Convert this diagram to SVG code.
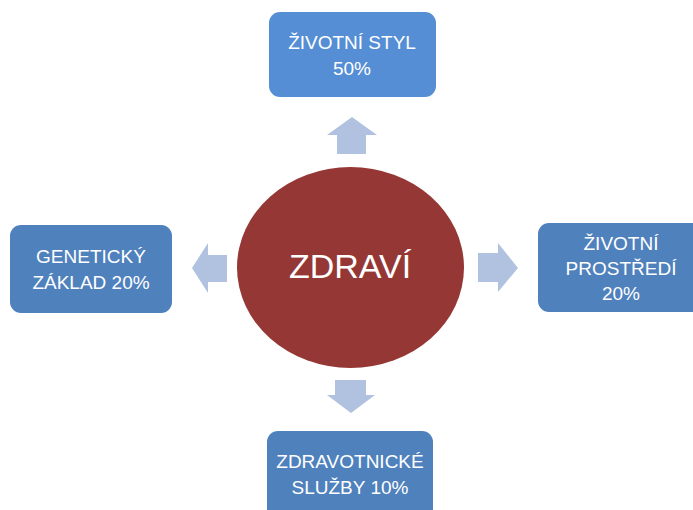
<svg xmlns="http://www.w3.org/2000/svg" width="693" height="510" viewBox="0 0 693 510">
<style>
.box{fill:#4F81BD}
.boxl{fill:#558ED5}
.t{font-family:"Liberation Sans",Arial,sans-serif;font-size:19px;fill:#FFFFFF;text-anchor:middle}
.big{font-size:34px}
.arr{fill:#B0C2E0}
</style>
<rect width="693" height="510" fill="#FFFFFF"/>
<g id="connectors">
<polygon class="arr" points="352,117 377,135 366,135 366,154 337,154 337,135 327,135"/>
<polygon class="arr" points="351,413 375,395 366,395 366,380 335,380 335,395 327,395"/>
<polygon class="arr" points="192,268 208,243 208,255 227,255 227,282 208,282 208,293"/>
<polygon class="arr" points="518,268 498,243 498,253 478,253 478,282 498,282 498,292"/>
</g>
<g id="zdravi">
<ellipse cx="350.5" cy="267.5" rx="113.5" ry="100.5" fill="#953735"/>
<text class="t big" x="350" y="278">ZDRAVÍ</text>
</g>
<g id="zivotni-styl">
<rect class="boxl" x="269" y="12" width="167" height="85" rx="11"/>
<text class="t" x="352" y="49">ŽIVOTNÍ STYL</text>
<text class="t" x="352" y="75">50%</text>
</g>
<g id="geneticky-zaklad">
<rect class="box" x="10" y="225" width="162" height="88" rx="11"/>
<text class="t" x="91" y="263">GENETICKÝ</text>
<text class="t" x="91" y="289">ZÁKLAD 20%</text>
</g>
<g id="zivotni-prostredi">
<rect class="box" x="538" y="223" width="165" height="89" rx="11"/>
<text class="t" x="621" y="250">ŽIVOTNÍ</text>
<text class="t" x="621" y="275">PROSTŘEDÍ</text>
<text class="t" x="621" y="300">20%</text>
</g>
<g id="zdravotnicke-sluzby">
<rect class="box" x="267" y="431" width="166" height="90" rx="11"/>
<text class="t" x="350" y="468">ZDRAVOTNICKÉ</text>
<text class="t" x="350" y="494">SLUŽBY 10%</text>
</g>
</svg>
